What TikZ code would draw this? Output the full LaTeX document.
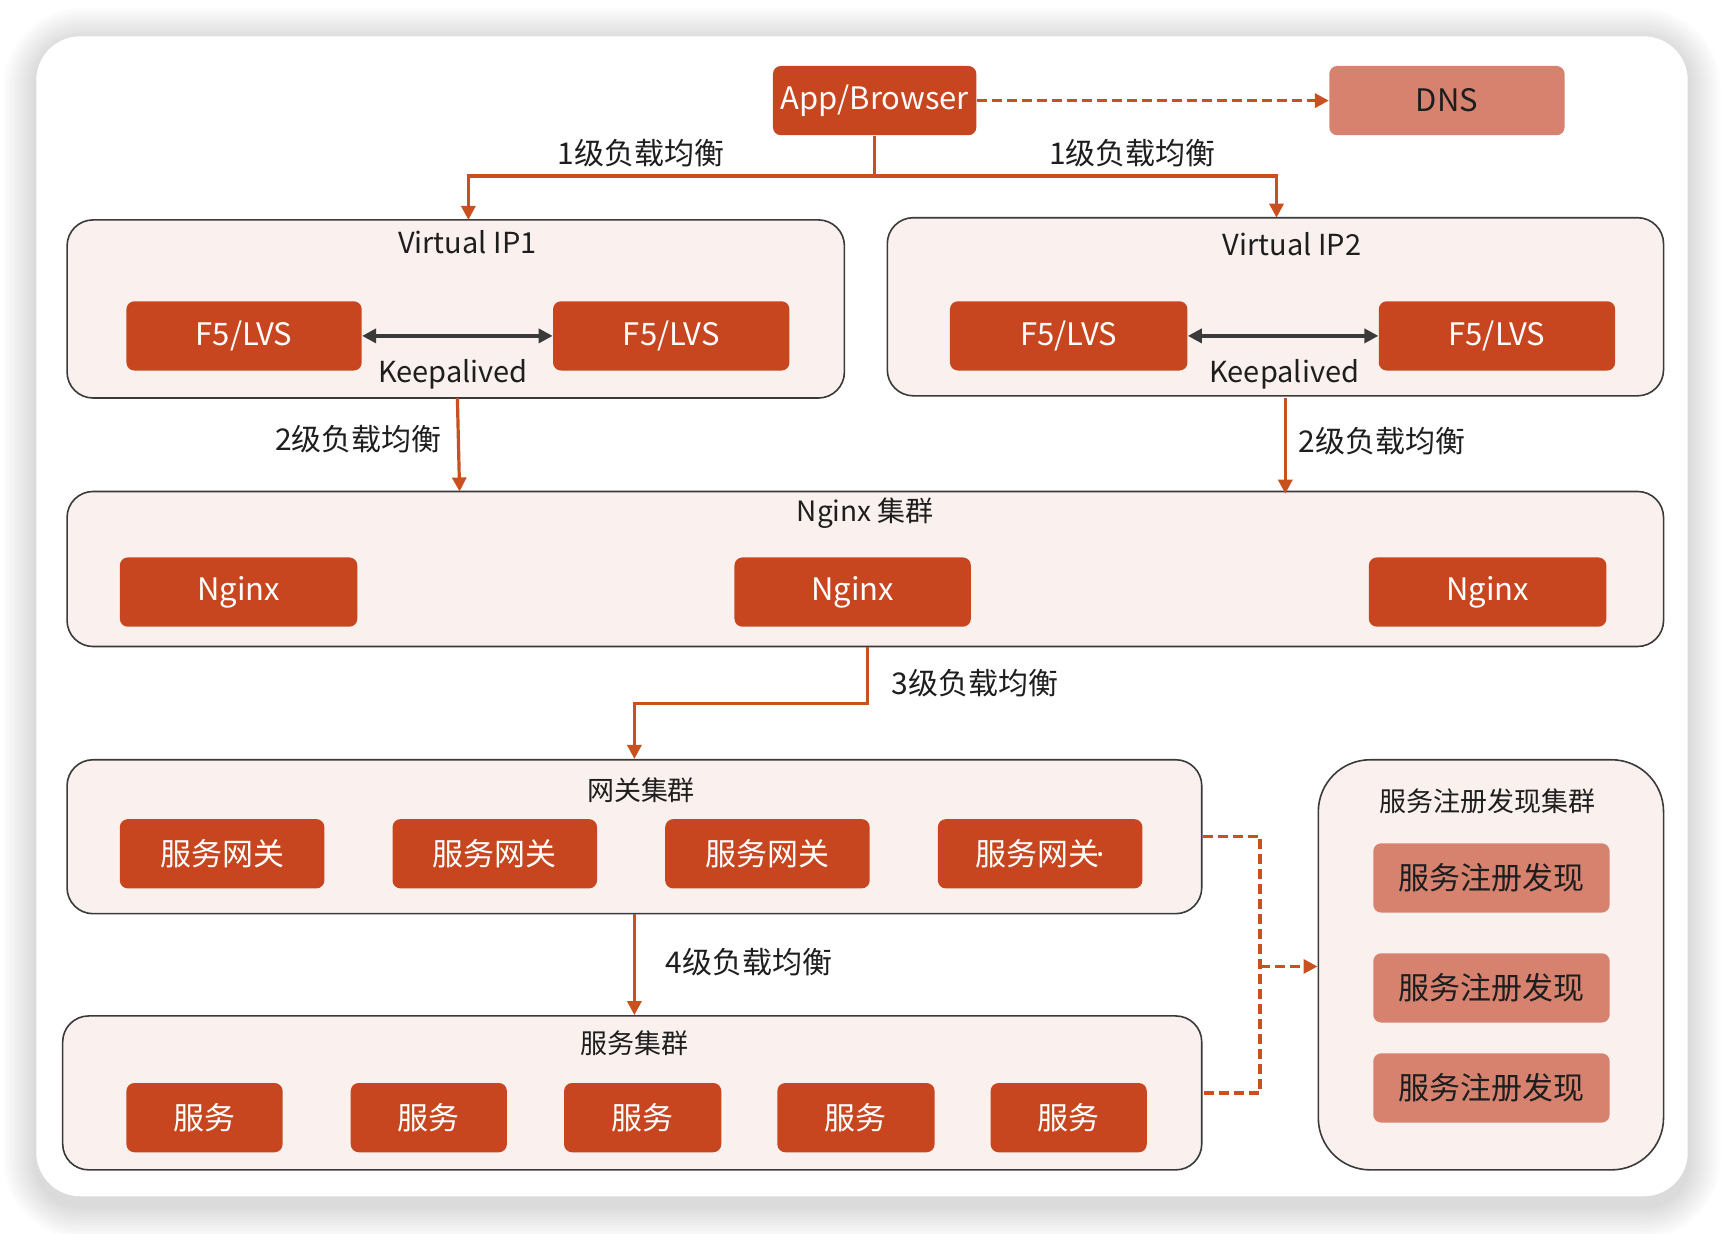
\documentclass[tikz,border=0pt]{standalone}
\usepackage{fontspec}
\setmainfont{Noto Sans CJK SC}
\newfontfamily\latinsans{Noto Sans}
\usetikzlibrary{arrows.meta,calc}
\definecolor{boxor}{HTML}{C8461F}
\definecolor{lineor}{HTML}{C9501F}
\definecolor{salmon}{HTML}{D6826F}
\definecolor{pinkbg}{HTML}{FAF0EE}
\definecolor{frame}{HTML}{3A3A3A}
\definecolor{txt}{HTML}{1E1E1E}
\begin{document}
\begin{tikzpicture}[x=0.55pt,y=-0.55pt,
  sz/.style 2 args={minimum width=#1*0.55pt, minimum height=#2*0.55pt},
  cluster/.style={draw=frame, line width=0.8pt, fill=pinkbg, rounded corners=13pt, inner sep=0pt},
  obox/.style={fill=boxor, rounded corners=4pt, text=white, inner sep=0pt, font=\fontsize{15.5}{18}\selectfont},
  sbox/.style={fill=salmon, rounded corners=4pt, text=txt, inner sep=0pt, font=\fontsize{15.5}{18}\selectfont},
  lbl/.style={text=txt, inner sep=0pt, font=\fontsize{15}{18}\selectfont},
  ttl/.style={text=txt, inner sep=0pt, font=\fontsize{13.5}{16}\selectfont},
  conn/.style={draw=lineor, line width=1.6pt, -{Triangle[length=7pt,width=7pt]}},
  dline/.style={draw=lineor, line width=1.6pt, dash pattern=on 5pt off 2.5pt},
  dconn/.style={dline, -{Triangle[length=7pt,width=7pt]}},
  darr/.style={draw=frame, line width=1.8pt, {Triangle[length=7pt,width=7pt]}-{Triangle[length=7pt,width=7pt]}}
]
\useasboundingbox (0,0) rectangle (1568,1122);
\fill[white] (0,0) rectangle (1568,1122);
% soft shadow of the card
\foreach \i in {1,...,12}{
  \fill[black, opacity=0.013, rounded corners={(22+\i*1.5)*1pt}] ({33-\i*2.5},{33-\i*2.5+4}) rectangle ({1535+\i*2.5},{1088+\i*2.5+9});
}
\fill[white, rounded corners=22pt] (33,33) rectangle (1535,1088);

% top row
\node[obox, sz={185}{63}] (app) at (795.5,91.5) {App/Browser};
\node[sbox, sz={214}{63}] (dns) at (1316,91.5) {DNS};
\draw[dconn] (app.east) -- (dns.west);

% virtual IP containers
\node[cluster, sz={707}{162}] (vip1) at (414.5,281) {};
\node[cluster, sz={706}{162}] (vip2) at (1160,279) {};
\node[ttl, font=\fontsize{14.5}{17}\selectfont] (vip1t) at (425,220) {Virtual IP1};
\node[ttl, font=\fontsize{14.5}{17}\selectfont] (vip2t) at (1175,222) {Virtual IP2};
\node[obox, sz={214}{63}] (f1) at (222,305.5) {F5/LVS};
\node[obox, sz={215}{63}] (f2) at (610.5,305.5) {F5/LVS};
\node[obox, sz={216}{63}] (f3) at (972,305.5) {F5/LVS};
\node[obox, sz={215}{63}] (f4) at (1361.5,305.5) {F5/LVS};
\draw[darr] (f1.east) -- (f2.west);
\draw[darr] (f3.east) -- (f4.west);
\node[lbl, font=\fontsize{14.5}{17}\selectfont] (kp1) at (412,340) {Keepalived};
\node[lbl, font=\fontsize{14.5}{17}\selectfont] (kp2) at (1168,340) {Keepalived};

% level 1
\coordinate (j1) at (796,160);
\coordinate (v1in) at (426,200);
\coordinate (v2in) at (1161,198);
\draw[conn] (app.south) -- (app.south |- j1) -| (v1in);
\draw[conn] (app.south |- j1) -| (v2in);
\node[lbl] (l1a) at (583,139) {1级负载均衡};
\node[lbl] (l1b) at (1030,139) {1级负载均衡};

% nginx cluster
\node[cluster, sz={1452}{141}] (ngc) at (787,517.5) {};
\node[ttl, font=\fontsize{14}{17}\selectfont] (ngt) at (787,467) {Nginx 集群};
\node[obox, sz={216}{63}] (n1) at (217,538.5) {Nginx};
\node[obox, sz={215}{63}] (n2) at (775.5,538.5) {Nginx};
\node[obox, sz={216}{63}] (n3) at (1353,538.5) {Nginx};

% level 2
\coordinate (v1out) at (416,362);
\coordinate (n1in) at (418,447);
\coordinate (v2out) at (1169,362);
\coordinate (n2in) at (1169,449);
\draw[conn] (v1out) -- (n1in);
\draw[conn] (v2out) -- (n2in);
\node[lbl] (l2a) at (326,399) {2级负载均衡};
\node[lbl] (l2b) at (1257,401) {2级负载均衡};

% gateway cluster
\node[cluster, sz={1032}{140}] (gwc) at (577,761) {};
\node[ttl] (gwt) at (583,719) {网关集群};
\node[obox, sz={186}{63}] (g1) at (202,776.5) {服务网关};
\node[obox, sz={186}{63}] (g2) at (450,776.5) {服务网关};
\node[obox, sz={186}{63}] (g3) at (698,776.5) {服务网关};
\node[obox, sz={186}{63}] (g4) at (946,776.5) {服务网关{\latinsans\kern-0.1em·}};

% level 3
\coordinate (ngout) at (789,588);
\coordinate (k3) at (789,640);
\draw[conn] (ngout) -- (k3) -| (gwc.north);
\node[lbl] (l3) at (887,621) {3级负载均衡};

% service cluster
\node[cluster, sz={1036}{140}] (svc) at (575,994) {};
\node[ttl] (svt) at (577,949) {服务集群};
\node[obox, sz={142}{63}] (s1) at (186,1016.5) {服务};
\node[obox, sz={142}{63}] (s2) at (390,1016.5) {服务};
\node[obox, sz={143}{63}] (s3) at (584.5,1016.5) {服务};
\node[obox, sz={143}{63}] (s4) at (778.5,1016.5) {服务};
\node[obox, sz={142}{63}] (s5) at (972,1016.5) {服务};

% level 4
\draw[conn] (gwc.south) -- (gwc.south |- svc.north);
\node[lbl] (l4) at (681,875) {4级负载均衡};

% registry cluster
\node[cluster, rounded corners=26pt, sz={314}{373}] (reg) at (1356,877.5) {};
\node[ttl] (regt) at (1353,729) {服务注册发现集群};
\node[sbox, sz={215}{63}] (r1) at (1356.5,798.5) {服务注册发现};
\node[sbox, sz={215}{63}] (r2) at (1356.5,898.5) {服务注册发现};
\node[sbox, sz={215}{63}] (r3) at (1356.5,989.5) {服务注册发现};

% dashed links to registry
\coordinate (dv) at (1146,879);
\draw[dline] (gwc.east) -| (dv) |- (svc.east);
\draw[dconn] (dv) -- (dv -| reg.west);
\end{tikzpicture}
\end{document}
